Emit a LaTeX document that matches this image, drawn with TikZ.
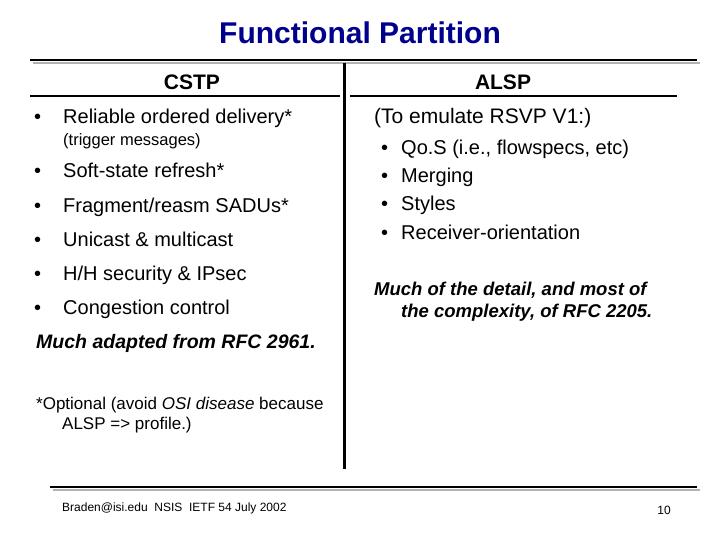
\documentclass[tikz,border=0pt]{standalone}
\usepackage{fontspec}
\setmainfont{Liberation Sans}
\begin{document}
\begin{tikzpicture}[x=1pt,y=-1pt,
  txt/.style={anchor=west,inner sep=0pt,font=\fontsize{20}{23}\selectfont},
  sml/.style={anchor=west,inner sep=0pt,font=\fontsize{16.5}{19}\selectfont},
  rule/.style={line width=2.5pt,black},
  shadow/.style={line width=2.5pt,gray!60}]
\useasboundingbox (0,0) rectangle (720,540);
\node[inner sep=0pt,font=\fontsize{30}{34}\selectfont\bfseries,text=blue!55!black] (title) at (360,33) {Functional Partition};
\coordinate (t1) at (30,60); \coordinate (t2) at (697,60);
\draw[shadow] ([shift={(3,3)}]t1) -- ([shift={(3,3)}]t2);
\draw[rule] (t1) -- (t2);
\coordinate (v1) at (344,63); \coordinate (v2) at (344,469);
\draw[line width=3pt] (v1) -- (v2);
\node[inner sep=0pt,font=\fontsize{21}{24}\selectfont\bfseries] (cstp) at (192,82) {CSTP};
\node[inner sep=0pt,font=\fontsize{21}{24}\selectfont\bfseries] (alsp) at (503,82) {ALSP};
\coordinate (c1) at (30,96); \coordinate (c2) at (340,96);
\draw[line width=1.5pt] (c1) -- (c2);
\coordinate (a1) at (350,96); \coordinate (a2) at (677,96);
\draw[line width=1.5pt] (a1) -- (a2);
\foreach \y/\t [count=\i] in {124/{Reliable ordered delivery*},178/{Soft-state refresh*},213/{Fragment/reasm SADUs*},246/{Unicast \& multicast},280/{H/H security \& IPsec},314/{Congestion control}}{
  \node[txt,anchor=base west] (b\i) at (34,\y) {•};
  \node[txt,anchor=base west] (l\i) at (63,\y) {\t};
}
\node[sml,anchor=base west] (trig) at (63,146) {(trigger messages)};
\node[txt,anchor=base west,font=\fontsize{19.5}{22}\selectfont\itshape\bfseries] (much) at (36,348) {Much adapted from RFC 2961.};
\node[txt,anchor=base west,font=\fontsize{21}{24}\selectfont] (emu) at (374,124) {(To emulate RSVP V1:)};
\foreach \y/\t [count=\i] in {155/{Qo.S (i.e., flowspecs, etc)},183/{Merging},211/{Styles},240/{Receiver-orientation}}{
  \node[txt,anchor=base west] (rb\i) at (381,\y) {•};
  \node[txt,anchor=base west] (rl\i) at (401,\y) {\t};
}
\node[txt,font=\fontsize{18.5}{22}\selectfont\itshape\bfseries,anchor=north west,align=left] (det) at (374,282) {Much of the detail, and most of\\\hspace*{27pt}the complexity, of RFC 2205.};
\node[sml,anchor=north west,align=left,font=\fontsize{17}{20}\selectfont] (opt) at (36,397) {*Optional (avoid \textit{OSI disease} because\\\hspace*{26pt}ALSP => profile.)};
\coordinate (f1) at (50,487); \coordinate (f2) at (697,487);
\draw[shadow] ([shift={(3,3)}]f1) -- ([shift={(3,3)}]f2);
\draw[rule] (f1) -- (f2);
\node[inner sep=0pt,anchor=west,font=\fontsize{12}{14}\selectfont] (foot) at (62,508) {Braden@isi.edu\ \ NSIS\ \ IETF 54 July 2002};
\node[inner sep=0pt,font=\fontsize{12}{14}\selectfont] (pg) at (664,510) {10};
\end{tikzpicture}
\end{document}
